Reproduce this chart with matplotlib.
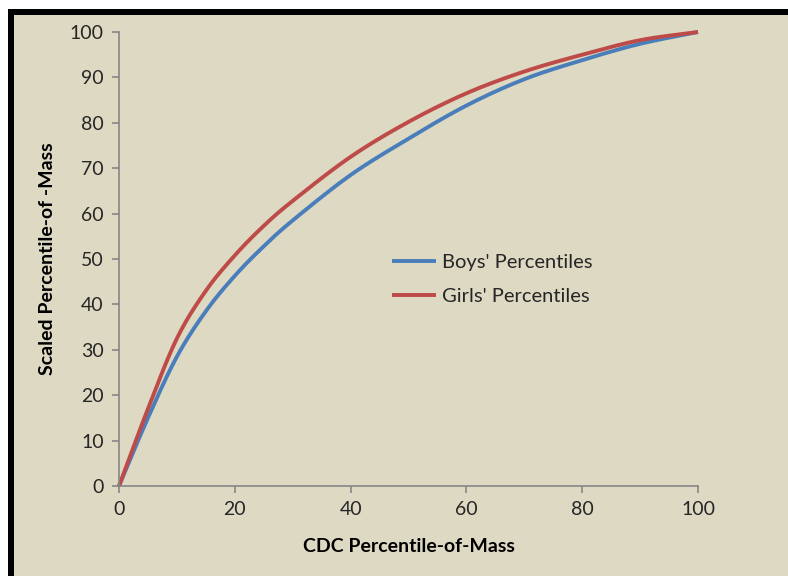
import matplotlib
matplotlib.use("Agg")
import numpy as np
from matplotlib import pyplot as plt
from matplotlib.patches import Rectangle

cdc_pct = [0, 5, 10, 15, 20, 25, 30, 40, 50, 60, 70, 80, 90, 100]
boys_pct = [0, 15, 28.5, 38.5, 46.3, 52.8, 58.5, 68.5, 76.5, 83.8, 89.6, 93.8, 97.4, 100]
girls_pct = [0, 17, 32.5, 43, 50.8, 57.3, 62.8, 72.5, 80.2, 86.5, 91.3, 95, 98.2, 100]

BG = "#DDD9C3"
GRAY = "#868686"
W, H = 788, 576

plt.rcParams["font.family"] = ["Lato", "DejaVu Sans"]


def smooth(xs, ys, n=20):
    # Catmull-Rom drawing of the points, like Excel's smoothed line
    xs = np.asarray(xs, float)
    ys = np.asarray(ys, float)
    px = np.concatenate([[2 * xs[0] - xs[1]], xs, [2 * xs[-1] - xs[-2]]])
    py = np.concatenate([[2 * ys[0] - ys[1]], ys, [2 * ys[-1] - ys[-2]]])
    t = np.linspace(0, 1, n, endpoint=False)
    outx, outy = [], []
    for i in range(1, len(px) - 2):
        for p, out in ((px, outx), (py, outy)):
            p0, p1, p2, p3 = p[i - 1], p[i], p[i + 1], p[i + 2]
            out.extend(0.5 * (2 * p1 + (-p0 + p2) * t + (2 * p0 - 5 * p1 + 4 * p2 - p3) * t ** 2
                              + (-p0 + 3 * p1 - 3 * p2 + p3) * t ** 3))
    outx.append(xs[-1])
    outy.append(ys[-1])
    return outx, outy


fig = plt.figure(figsize=(W / 100, H / 100), dpi=100, facecolor="white")

# beige panel with the thick black frame on the left and top (behind the axes)
fig.patches.append(Rectangle((8 / W, 0), 1, 1 - 9 / H, transform=fig.transFigure,
                             facecolor=BG, edgecolor="none", zorder=-3))
fig.patches.append(Rectangle((8 / W, 0), 6 / W, 1 - 9 / H, transform=fig.transFigure,
                             facecolor="black", edgecolor="none", zorder=-2))
fig.patches.append(Rectangle((8 / W, 1 - 15 / H), 1, 6 / H, transform=fig.transFigure,
                             facecolor="black", edgecolor="none", zorder=-2))

ax = fig.add_axes([119 / W, 1 - 486 / H, 579 / W, 454 / H])
ax.set_facecolor("none")

bx, by = smooth(cdc_pct, boys_pct)
gx, gy = smooth(cdc_pct, girls_pct)
ax.plot(bx, by, color="#4A7EBB", lw=2.8, label="Boys' Percentiles",
        solid_capstyle="butt", clip_on=False)
ax.plot(gx, gy, color="#BE4B48", lw=2.8, label="Girls' Percentiles",
        solid_capstyle="butt", clip_on=False)

ax.set_xlim(0, 100)
ax.set_ylim(0, 100)
ax.set_xticks(range(0, 101, 20))
ax.set_yticks(range(0, 101, 10))

for side in ["top", "right"]:
    ax.spines[side].set_visible(False)
for side in ["left", "bottom"]:
    ax.spines[side].set_color(GRAY)
    ax.spines[side].set_linewidth(1.2)

ax.tick_params(axis="both", direction="out", length=5, width=1.2, color=GRAY,
               labelsize=14, labelcolor="#262626", pad=6)

ax.set_xlabel("CDC Percentile-of-Mass", fontsize=14, fontweight="bold", labelpad=14)
ax.set_ylabel("Scaled Percentile-of -Mass", fontsize=14, fontweight="bold", labelpad=10)

ax.legend(loc="center left", bbox_to_anchor=(0.44, 0.455), frameon=False,
          fontsize=14.5, handlelength=2.2, handletextpad=0.3, labelspacing=0.85,
          labelcolor="#262626")

fig.savefig("out.png", dpi=100, facecolor=fig.get_facecolor())
